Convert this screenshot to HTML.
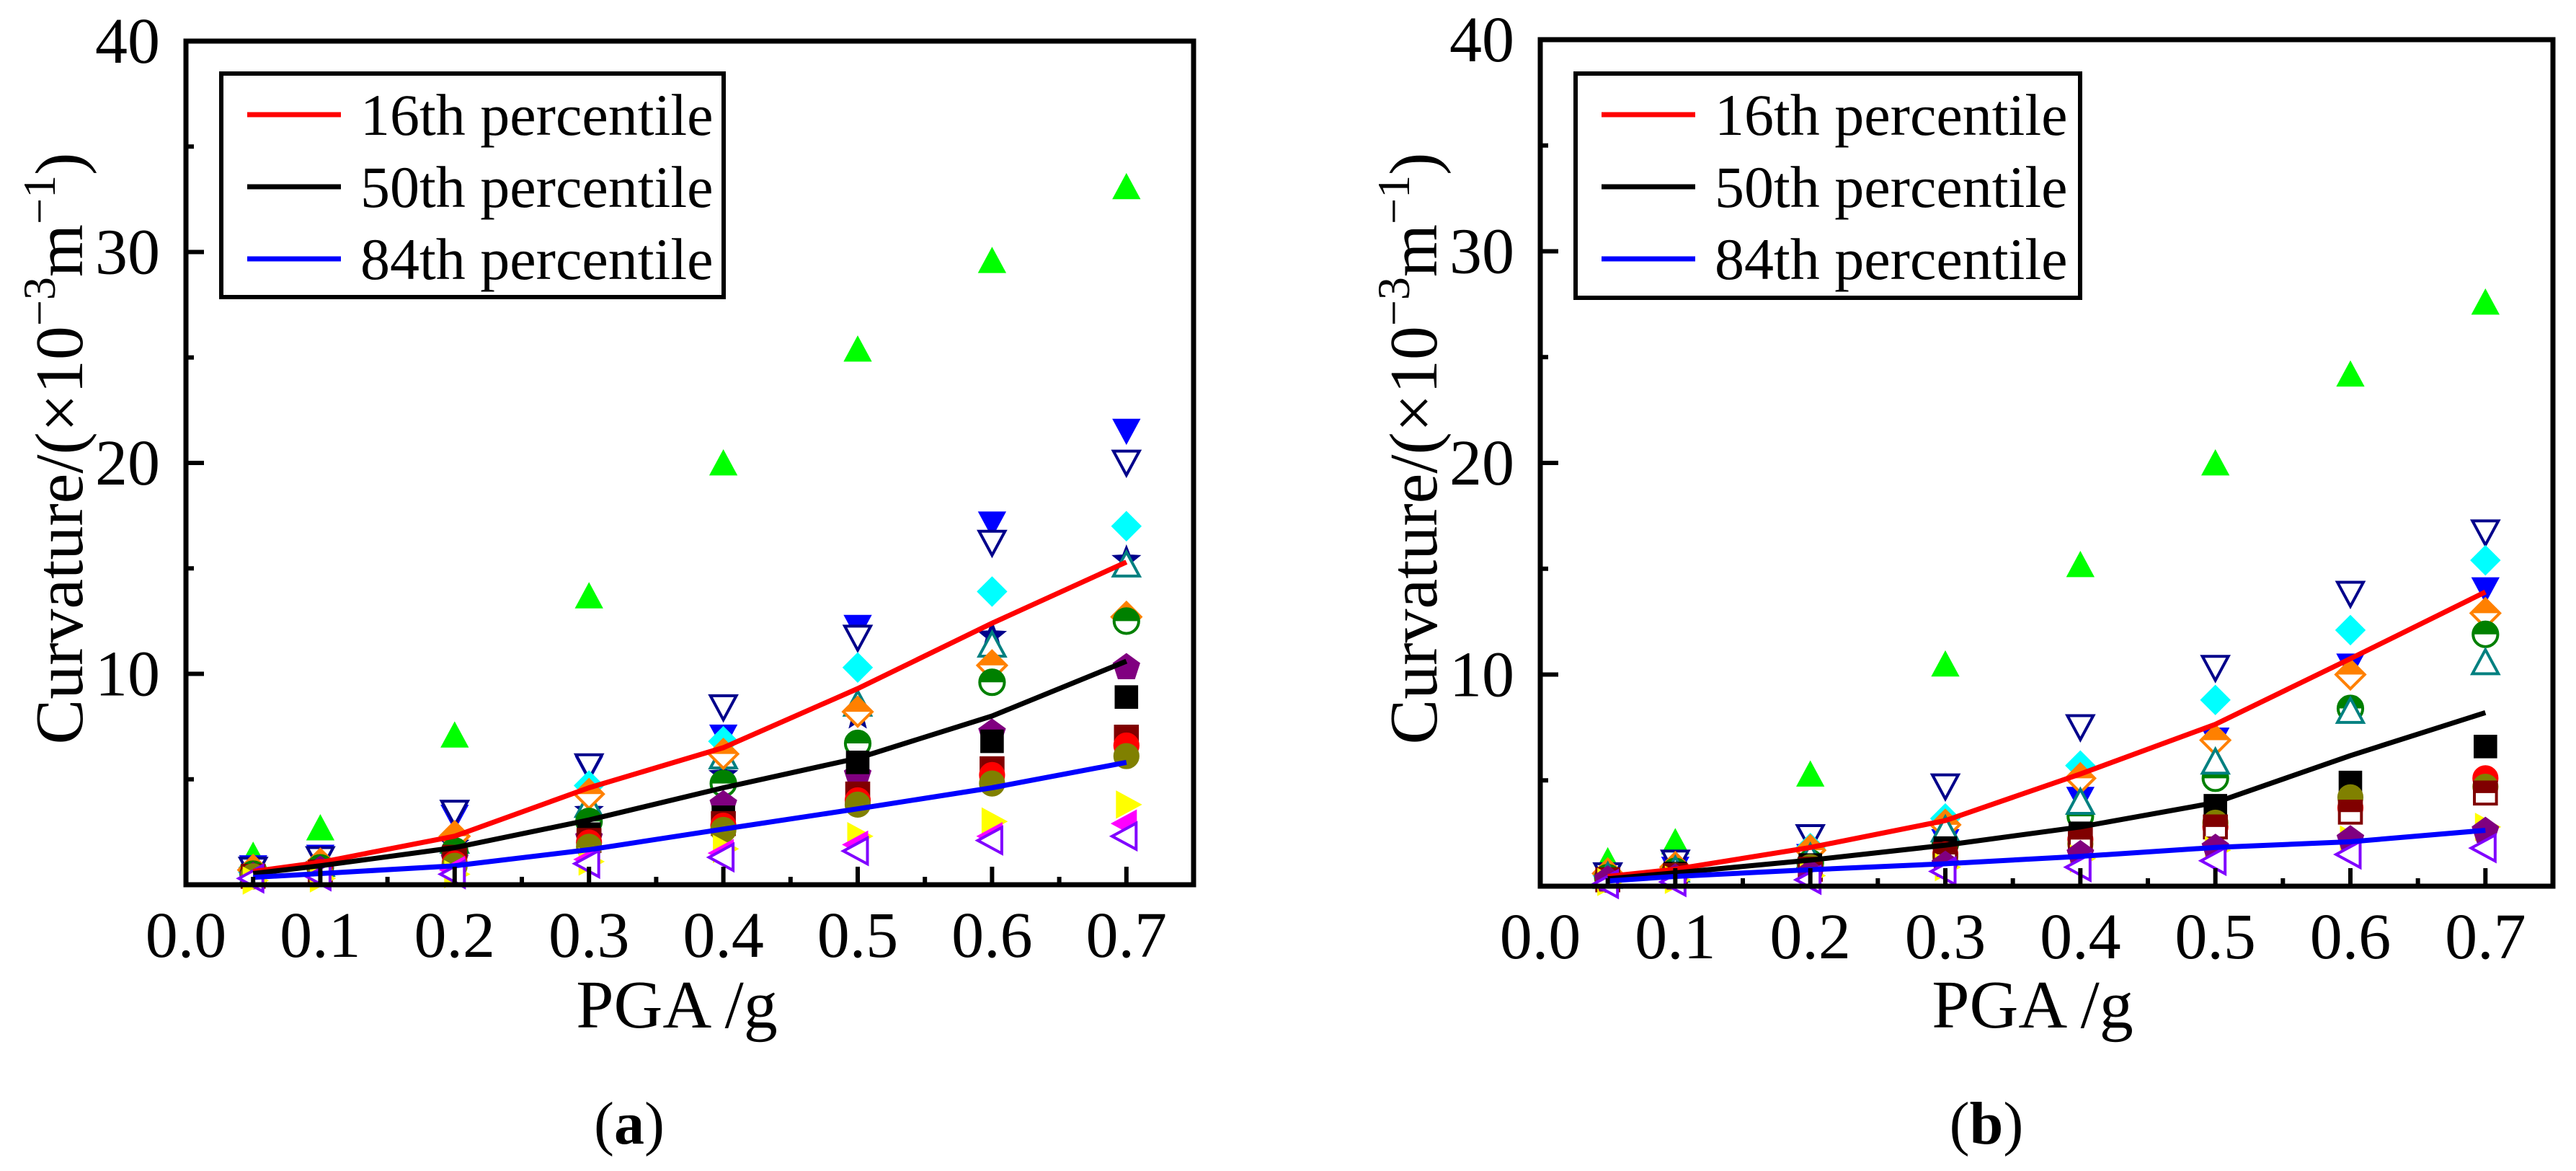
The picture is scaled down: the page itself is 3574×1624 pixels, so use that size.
<!DOCTYPE html>
<html><head><meta charset="utf-8">
<style>
html,body{margin:0;padding:0;background:#fff;}
svg{display:block;font-family:"Liberation Serif","Times New Roman",serif;}
svg text{font-family:"Liberation Serif","Times New Roman",serif;}
</style></head>
<body>
<svg id="fig" width="3574" height="1624" viewBox="0 0 3574 1624" xmlns="http://www.w3.org/2000/svg"></svg>
<script>
// ---------- shared data ----------
const pga = [0.05, 0.1, 0.2, 0.3, 0.4, 0.5, 0.6, 0.7];
const xTicks = [0.0, 0.1, 0.2, 0.3, 0.4, 0.5, 0.6, 0.7];
const xTickLabels = ["0.0","0.1","0.2","0.3","0.4","0.5","0.6","0.7"];
const yTicks = [10, 20, 30, 40];
const yTickLabels = ["10","20","30","40"];
const legendLabels = ["16th percentile","50th percentile","84th percentile"];

// panel (a) percentile lines
const aP16 = [0.63, 1.06, 2.3, 4.6, 6.5, 9.3, 12.4, 15.3];
const aP50 = [0.53, 0.9, 1.76, 3.07, 4.6, 6.0, 8.0, 10.6];
const aP84 = [0.35, 0.53, 0.9, 1.66, 2.64, 3.6, 4.6, 5.8];
// panel (b) percentile lines
const bP16 = [0.46, 0.8, 1.83, 3.1, 5.3, 7.65, 10.75, 13.9];
const bP50 = [0.35, 0.63, 1.23, 1.94, 2.8, 3.95, 6.17, 8.2];
const bP84 = [0.25, 0.46, 0.78, 1.06, 1.41, 1.83, 2.1, 2.64];

// panel (a) scatter series (values at pga points)
const aGreenTri   = [1.3, 2.6, 7.0, 13.6, 19.9, 25.3, 29.5, 33.0];
const aBlueDown   = [0.9, 1.4, 3.3, 5.6, 7.1, 12.3, 17.2, 21.6];
const aNavyDown   = [0.8, 1.3, 3.5, 5.7, 8.5, 11.8, 16.3, 20.1];
const aCyanDiam   = [0.6, 1.0, 2.3, 4.7, 6.8, 10.3, 13.9, 17.0];
const aNavyStar   = [0.6, 0.9, 1.9, 3.5, 5.2, 8.0, 11.8, 15.4];
const aTealTri    = [0.5, 0.9, 2.0, 3.7, 6.0, 8.5, 11.3, 15.1];
const aOrangeDiam = [0.7, 1.0, 2.3, 4.3, 6.2, 8.2, 10.4, 12.7];
const aGreenCirc  = [0.5, 0.8, 1.6, 3.0, 4.8, 6.7, 9.6, 12.5];
const aPurplePent = [0.4, 0.7, 1.2, 2.2, 3.8, 5.2, 7.2, 10.3];
const aBlackSq    = [0.4, 0.6, 1.1, 2.4, 3.2, 5.8, 6.8, 8.9];
const aDarkRedSq  = [0.4, 0.6, 1.3, 2.1, 2.9, 4.3, 5.5, 7.0];
const aRedCirc    = [0.4, 0.6, 1.0, 2.0, 2.8, 4.0, 5.2, 6.6];
const aOliveCirc  = [0.4, 0.5, 0.9, 1.8, 2.6, 3.8, 4.8, 6.1];
const aYellowRt   = [0.2, 0.3, 0.5, 1.1, 1.7, 2.3, 3.0, 3.8];
const aMagenta    = [0.3, 0.4, 0.7, 1.2, 1.5, 1.9, 2.3, 2.9];
const aVioletLeft = [0.3, 0.4, 0.5, 1.0, 1.3, 1.6, 2.1, 2.3];

// panel (b) scatter series
const bGreenTri   = [1.1, 2.0, 5.2, 10.4, 15.1, 19.9, 24.1, 27.5];
const bBlueDown   = [0.6, 0.9, 1.5, 2.2, 4.2, 7.0, 10.5, 14.1];
const bNavyDown   = [0.6, 1.2, 2.4, 4.8, 7.6, 10.4, 13.9, 16.8];
const bCyanDiam   = [0.5, 0.8, 1.8, 3.2, 5.7, 8.8, 12.1, 15.4];
const bOrangeDiam = [0.6, 0.9, 1.7, 2.9, 5.1, 6.9, 10.0, 12.9];
const bGreenCirc  = [0.4, 0.7, 1.1, 2.0, 3.3, 5.1, 8.4, 11.9];
const bTealTri    = [0.4, 0.7, 1.3, 2.6, 3.9, 5.8, 8.2, 10.5];
const bBlackSq    = [0.3, 0.6, 1.0, 1.8, 2.5, 3.8, 4.9, 6.6];
const bRedCirc    = [0.3, 0.5, 0.9, 1.5, 2.2, 2.8, 3.7, 5.1];
const bOliveCirc  = [0.3, 0.5, 0.9, 1.4, 2.0, 3.0, 4.2, 4.7];
const bDarkRedSq  = [0.3, 0.5, 0.8, 1.5, 2.2, 2.8, 3.5, 4.4];
const bYellowRt   = [0.2, 0.3, 0.5, 0.9, 1.3, 1.7, 2.2, 2.8];
const bPurplePent = [0.3, 0.4, 0.6, 1.0, 1.5, 1.8, 2.2, 2.6];
const bVioletLeft = [0.1, 0.2, 0.3, 0.7, 0.9, 1.2, 1.5, 1.8];

const panels = [
  {id:'a', left:258, right:1656, top:57, bottom:1227, legX:307, legY:102, legW:697, legH:310,
   titleX:82, xTitleX:939, capX:873,
   lines:[aP16,aP50,aP84],
   series:[
    [aGreenTri,'up','#00ff00','full'],[aBlueDown,'down','#0000ff','full'],[aNavyDown,'down','#00008b','open'],
    [aCyanDiam,'diamond','#00ffff','full'],[aNavyStar,'star','#00008b','full'],[aTealTri,'up','#008080','open'],
    [aOrangeDiam,'diamond','#ff8000','half'],[aGreenCirc,'circle','#008000','half'],[aPurplePent,'pent','#800080','full'],
    [aBlackSq,'square','#000000','full'],[aDarkRedSq,'square','#800000','half'],[aRedCirc,'circle','#ff0000','full'],
    [aOliveCirc,'circle','#808000','full'],[aYellowRt,'right','#ffff00','full'],[aMagenta,'left','#ff00ff','full'],
    [aVioletLeft,'left','#8000ff','open']]},
  {id:'b', left:2137, right:3542, top:55, bottom:1229, legX:2186, legY:102, legW:700, legH:311,
   titleX:1961, xTitleX:2820, capX:2756,
   lines:[bP16,bP50,bP84],
   series:[
    [bGreenTri,'up','#00ff00','full'],[bBlueDown,'down','#0000ff','full'],[bNavyDown,'down','#00008b','open'],
    [bCyanDiam,'diamond','#00ffff','full'],[bOrangeDiam,'diamond','#ff8000','half'],[bGreenCirc,'circle','#008000','half'],
    [bTealTri,'up','#008080','open'],[bBlackSq,'square','#000000','full'],[bRedCirc,'circle','#ff0000','full'],
    [bOliveCirc,'circle','#808000','full'],[bDarkRedSq,'square','#800000','half'],[bYellowRt,'right','#ffff00','full'],
    [bPurplePent,'pent','#800080','full'],[bVioletLeft,'left','#8000ff','open']]}
];
const lineColors = ['#ff0000','#000000','#0000ff'];

const NS = 'http://www.w3.org/2000/svg';
const svg = document.getElementById('fig');
function mk(tag, attrs, parent){
  const e = document.createElementNS(NS, tag);
  for (const k in attrs) e.setAttribute(k, attrs[k]);
  (parent||svg).appendChild(e);
  return e;
}
function shapePath(type, cx, cy, r){
  const pts = [];
  if (type==='circle') return null;
  if (type==='square') return `M${cx-r*0.85},${cy-r*0.85}h${r*1.7}v${r*1.7}h${-r*1.7}Z`;
  if (type==='diamond') return `M${cx},${cy-r*1.1}L${cx+r*1.1},${cy}L${cx},${cy+r*1.1}L${cx-r*1.1},${cy}Z`;
  if (type==='up') return `M${cx},${cy-r*1.1}L${cx+r},${cy+r*0.75}L${cx-r},${cy+r*0.75}Z`;
  if (type==='down') return `M${cx},${cy+r*1.1}L${cx+r},${cy-r*0.75}L${cx-r},${cy-r*0.75}Z`;
  if (type==='right') return `M${cx+r*1.1},${cy}L${cx-r*0.75},${cy-r}L${cx-r*0.75},${cy+r}Z`;
  if (type==='left') return `M${cx-r*1.1},${cy}L${cx+r*0.75},${cy-r}L${cx+r*0.75},${cy+r}Z`;
  if (type==='pent' || type==='star'){
    const n = type==='pent'?5:10;
    for (let i=0;i<n;i++){
      const a = -Math.PI/2 + i*2*Math.PI/n;
      const rr = (type==='star' && i%2) ? r*0.45 : r*1.05;
      pts.push((cx+rr*Math.cos(a)).toFixed(1)+','+(cy+rr*Math.sin(a)).toFixed(1));
    }
    return 'M'+pts.join('L')+'Z';
  }
}
let clipId = 0;
function marker(g, type, cx, cy, color, fillMode){
  const r = 18;
  let el;
  const p = shapePath(type, cx, cy, r);
  const attrs = fillMode==='full' ? {fill:color, stroke:color, 'stroke-width':2}
               : {fill:'#fff', stroke:color, 'stroke-width':4};
  if (p===null) el = mk('circle', Object.assign({cx:cx, cy:cy, r:r*0.95}, attrs), g);
  else el = mk('path', Object.assign({d:p}, attrs), g);
  if (fillMode==='half'){
    const id = 'hc'+(clipId++);
    const cp = mk('clipPath', {id:id}, g);
    mk('rect', {x:cx-r*1.3, y:cy-r*1.3, width:r*2.6, height:r*1.3}, cp);
    if (p===null) mk('circle', {cx:cx, cy:cy, r:r*0.95, fill:color, 'clip-path':'url(#'+id+')'}, g);
    else mk('path', {d:p, fill:color, 'clip-path':'url(#'+id+')'}, g);
  }
  return el;
}

panels.forEach(P => {
  const X = v => P.left + v/0.75*(P.right-P.left);
  const Y = v => P.bottom - v/40*(P.bottom-P.top);
  const g = mk('g', {});
  
  

  const sg = mk('g', {}, g);
  
  
  P.series.forEach((s, si) => {
    s[0].forEach((v, i) => {
      const m = marker(sg, s[1], X(pga[i]), Y(v), s[2], s[3]);
      
      
    });
  });

  P.lines.forEach((arr, li) => {
    const d = arr.map((v,i)=> (i?'L':'M')+X(pga[i]).toFixed(1)+','+Y(v).toFixed(1)).join('');
    const pl = mk('path', {d:d, fill:'none', stroke:lineColors[li], 'stroke-width':7, 'stroke-linejoin':'round'}, g);
    
    
  });

  const tg = mk('g', {stroke:'#000','stroke-width':6}, g);
  
  
  for (let k=1;k<=14;k++){
    const v = k*0.05, len = (k%2===0)?25:11;
    mk('line', {x1:X(v), x2:X(v), y1:P.bottom, y2:P.bottom-len}, tg);
  }
  for (let k=1;k<8;k++){
    const v = k*5, len = (k%2===0)?25:11;
    mk('line', {x1:P.left, x2:P.left+len, y1:Y(v), y2:Y(v)}, tg);
  }

  const fr = mk('rect', {x:P.left, y:P.top, width:P.right-P.left, height:P.bottom-P.top, fill:'none', stroke:'#000', 'stroke-width':7}, g);
  
  

  xTicks.forEach((v,i)=>{
    const t = mk('text', {x:X(v), y:P.bottom+100, 'font-size':90, 'text-anchor':'middle'}, g);
    t.textContent = xTickLabels[i];
    
    
  });
  yTicks.forEach((v,i)=>{
    const t = mk('text', {x:P.left-36, y:Y(v)+30, 'font-size':90, 'text-anchor':'end'}, g);
    t.textContent = yTickLabels[i];
    
    
  });

  const cy = 622;
  const yt = mk('text', {x:P.titleX, y:cy, 'font-size':94, 'text-anchor':'middle', transform:`rotate(-90 ${P.titleX} ${cy}) translate(0 32)`}, g);
  yt.innerHTML = 'Curvature/(×10<tspan font-size="64" dy="-38">−3</tspan><tspan dy="38">m</tspan><tspan font-size="64" dy="-38">−1</tspan><tspan dy="38">)</tspan>';
  
  
  const xt = mk('text', {x:P.xTitleX, y:1425, 'font-size':94, 'text-anchor':'middle'}, g);
  xt.textContent = 'PGA /g';
  
  
  const cap = mk('text', {x:P.capX, y:1586, 'font-size':84, 'text-anchor':'middle'}, g);
  cap.innerHTML = '(<tspan font-weight="bold">'+P.id+'</tspan>)';
  
  

  const lg = mk('g', {}, g);
  
  
  mk('rect', {x:P.legX, y:P.legY, width:P.legW, height:P.legH, fill:'#fff', stroke:'#000', 'stroke-width':6}, lg);
  legendLabels.forEach((lab, i) => {
    const ry = 159 + i*100;
    const e = mk('g', {}, lg);
    
    
    mk('line', {x1:P.legX+36, x2:P.legX+166, y1:ry, y2:ry, stroke:lineColors[i], 'stroke-width':7}, e);
    const t = mk('text', {x:P.legX+193, y:ry+28, 'font-size':82}, e);
    t.textContent = lab;
  });
});
</script>
</body></html>
